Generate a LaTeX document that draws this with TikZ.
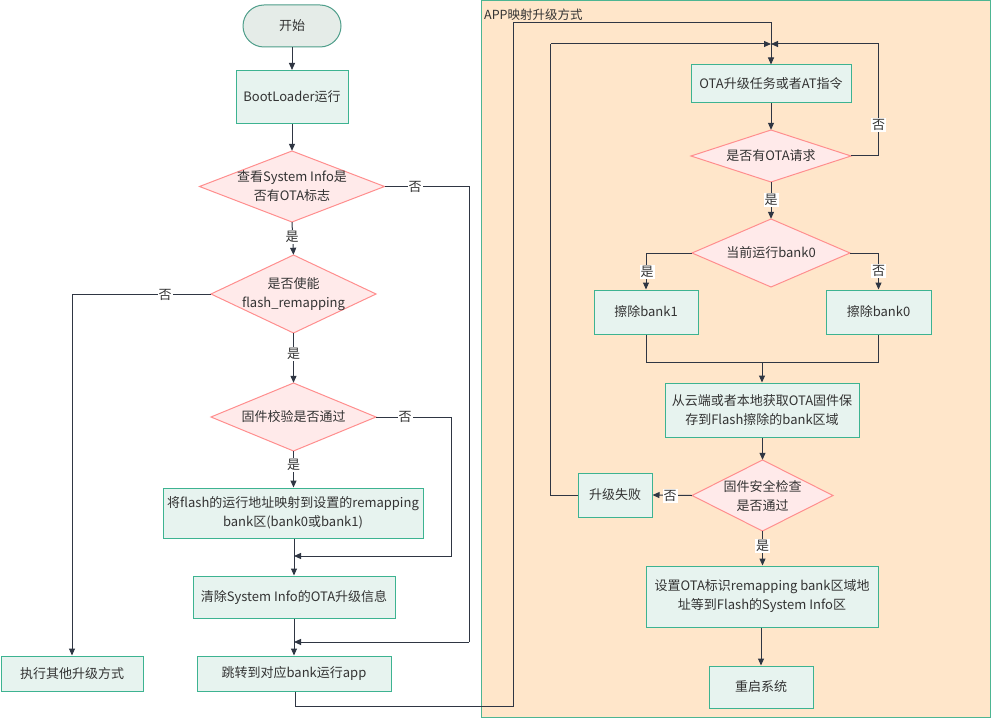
\documentclass[tikz,border=0pt]{standalone}
\usepackage{fontspec}
\setmainfont{Noto Sans CJK SC}
\usetikzlibrary{arrows.meta}
\definecolor{boxfill}{HTML}{E7F3EF}
\definecolor{boxline}{HTML}{3DB391}
\definecolor{diafill}{HTML}{FFEAEA}
\definecolor{dialine}{HTML}{FF8E8E}
\definecolor{startfill}{HTML}{E5ECE8}
\definecolor{startline}{HTML}{4E9E8A}
\definecolor{linec}{HTML}{2F3643}
\definecolor{txt}{HTML}{333333}
\definecolor{peach}{HTML}{FFE6CA}
\definecolor{contline}{HTML}{4DB592}
\tikzset{
  procbox/.style={draw=boxline, fill=boxfill, line width=1pt, align=center, inner sep=0pt, text=txt},
  diashape/.style={draw=dialine, fill=diafill, line width=1pt},
  diatext/.style={align=center, inner sep=0pt, text=txt},
  conn/.style={draw=linec, line width=1pt, -{Triangle[length=7pt,width=6pt]}},
  plainconn/.style={draw=linec, line width=1pt},
  lab/.style={fill=white, inner sep=1pt, text=txt},
}
\newcommand\mydia[6]{%
  \path[diashape] (#2-#4/2,#3) -- (#2,#3-#5/2) -- (#2+#4/2,#3) -- (#2,#3+#5/2) -- cycle;
  \node[diatext, minimum width=#4pt, minimum height=#5pt] (#1) at (#2,#3) {#6};}
\begin{document}
\begin{tikzpicture}[x=1pt,y=-1pt, font=\fontsize{13}{19}\selectfont]
\useasboundingbox (0,0) rectangle (992,719);
\fill[white] (0,0) rectangle (992,719);
% container
\draw[fill=peach, draw=contline, line width=1pt] (481.5,1) rectangle (990.5,717);
\node[anchor=west, text=txt, inner sep=0pt, font=\fontsize{12.5}{14}\selectfont] (ctitle) at (484,15) {APP映射升级方式};

% left column
\node[draw=startline, fill=startfill, line width=1pt, rounded corners=21pt, minimum width=98pt, minimum height=42pt, inner sep=0pt, text=txt] (start) at (292,26) {开始};
\node[procbox, minimum width=112pt, minimum height=53pt] (boot) at (292,97) {BootLoader运行};
\mydia{d1}{292}{186.5}{185}{71}{查看System Info是\\否有OTA标志}
\mydia{d2}{293.5}{294}{165}{78}{是否使能\\flash\_remapping}
\mydia{d3}{293.5}{417}{165}{68}{固件校验是否通过}
\node[procbox, minimum width=260pt, minimum height=50pt] (map) at (293,513) {将flash的运行地址映射到设置的remapping\\bank区(bank0或bank1)};
\node[procbox, minimum width=202pt, minimum height=42pt] (clr) at (294,597) {清除System Info的OTA升级信息};
\node[procbox, minimum width=142pt, minimum height=35pt] (other) at (72,673.5) {执行其他升级方式};
\node[procbox, minimum width=194pt, minimum height=35pt] (jump) at (294,673.5) {跳转到对应bank运行app};

% right column
\node[procbox, minimum width=160pt, minimum height=38pt] (ota) at (771,84) {OTA升级任务或者AT指令};
\mydia{q}{771}{156}{160}{52}{是否有OTA请求}
\mydia{b}{771}{253}{158}{68}{当前运行bank0}
\node[procbox, minimum width=104pt, minimum height=44pt] (e1) at (646,312) {擦除bank1};
\node[procbox, minimum width=105pt, minimum height=44pt] (e0) at (878.5,312) {擦除bank0};
\node[procbox, minimum width=194pt, minimum height=54pt] (fetch) at (762,410) {从云端或者本地获取OTA固件保\\存到Flash擦除的bank区域};
\mydia{s}{762.5}{495.5}{141}{71}{固件安全检查\\是否通过}
\node[procbox, minimum width=74pt, minimum height=44pt] (fail) at (615,495) {升级失败};
\node[procbox, minimum width=232pt, minimum height=61pt] (set) at (762,596.5) {设置OTA标识remapping bank区域地\\址等到Flash的System Info区};
\node[procbox, minimum width=104pt, minimum height=42pt] (reboot) at (761,687) {重启系统};

% junction coordinates
\coordinate (j1) at (294,556);
\coordinate (j2) at (294,642);
\coordinate (m) at (771,44);
\coordinate (mm) at (762,362);

% connectors left
\draw[conn] (start) -- (boot);
\draw[conn] (boot) -- (d1.north);
\draw[conn] (d1.south) -- (d2.north);
\draw[plainconn] (d1.east) -- (469,186.5) -- (469,642);
\draw[conn] (469,642) -- (j2);
\draw[conn] (d2.west) -| (other.north);
\draw[conn] (d2.south) -- (d3.north);
\draw[plainconn] (d3.east) -- (451.5,417) -- (451.5,556);
\draw[conn] (451.5,556) -- (j1);
\draw[conn] (d3.south) -- (map.north -| d3.south);
\draw[conn] (map.south -| j1) -- (clr.north -| j1);
\draw[conn] (clr.south -| j2) -- (jump.north -| j2);
\draw[plainconn] (jump.south -| 295,0) -- (295,706) -- (513,706) -- (513,22.5) -- (771,22.5) -- (m);
\draw[conn] (m) -- (ota.north);

% connectors right
\draw[conn] (ota) -- (q.north);
\draw[plainconn] (q.east) -- (878.5,156) -- (878.5,44);
\draw[conn] (878.5,44) -- (m);
\draw[conn] (q.south) -- (b.north);
\draw[conn] (b.west) -| (e1.north);
\draw[conn] (b.east) -| (e0.north);
\draw[plainconn] (e1.south) -- (646,362) -- (878.5,362) -- (e0.south);
\draw[conn] (mm) -- (fetch.north);
\draw[conn] (fetch.south -| s.north) -- (s.north);
\draw[conn] (s.west) -- (fail.east);
\draw[plainconn] (fail.west) -- (550.5,495) -- (550.5,44);
\draw[conn] (550.5,44) -- (m);
\draw[conn] (s.south) -- (set.north -| s.south);
\draw[conn] (set.south -| reboot.north) -- (reboot.north);

% labels
\node[lab] (l1) at (292,237) {是};
\node[lab] (l2) at (415,187) {否};
\node[lab] (l3) at (165,294.5) {否};
\node[lab] (l4) at (293.5,354) {是};
\node[lab] (l5) at (405,417) {否};
\node[lab] (l6) at (293.5,465) {是};
\node[lab] (l7) at (878.5,125) {否};
\node[lab] (l8) at (771,200) {是};
\node[lab] (l9) at (647,272) {是};
\node[lab] (l10) at (878.5,271) {否};
\node[lab] (l11) at (670,496) {否};
\node[lab] (l12) at (762.5,546) {是};
\end{tikzpicture}
\end{document}
